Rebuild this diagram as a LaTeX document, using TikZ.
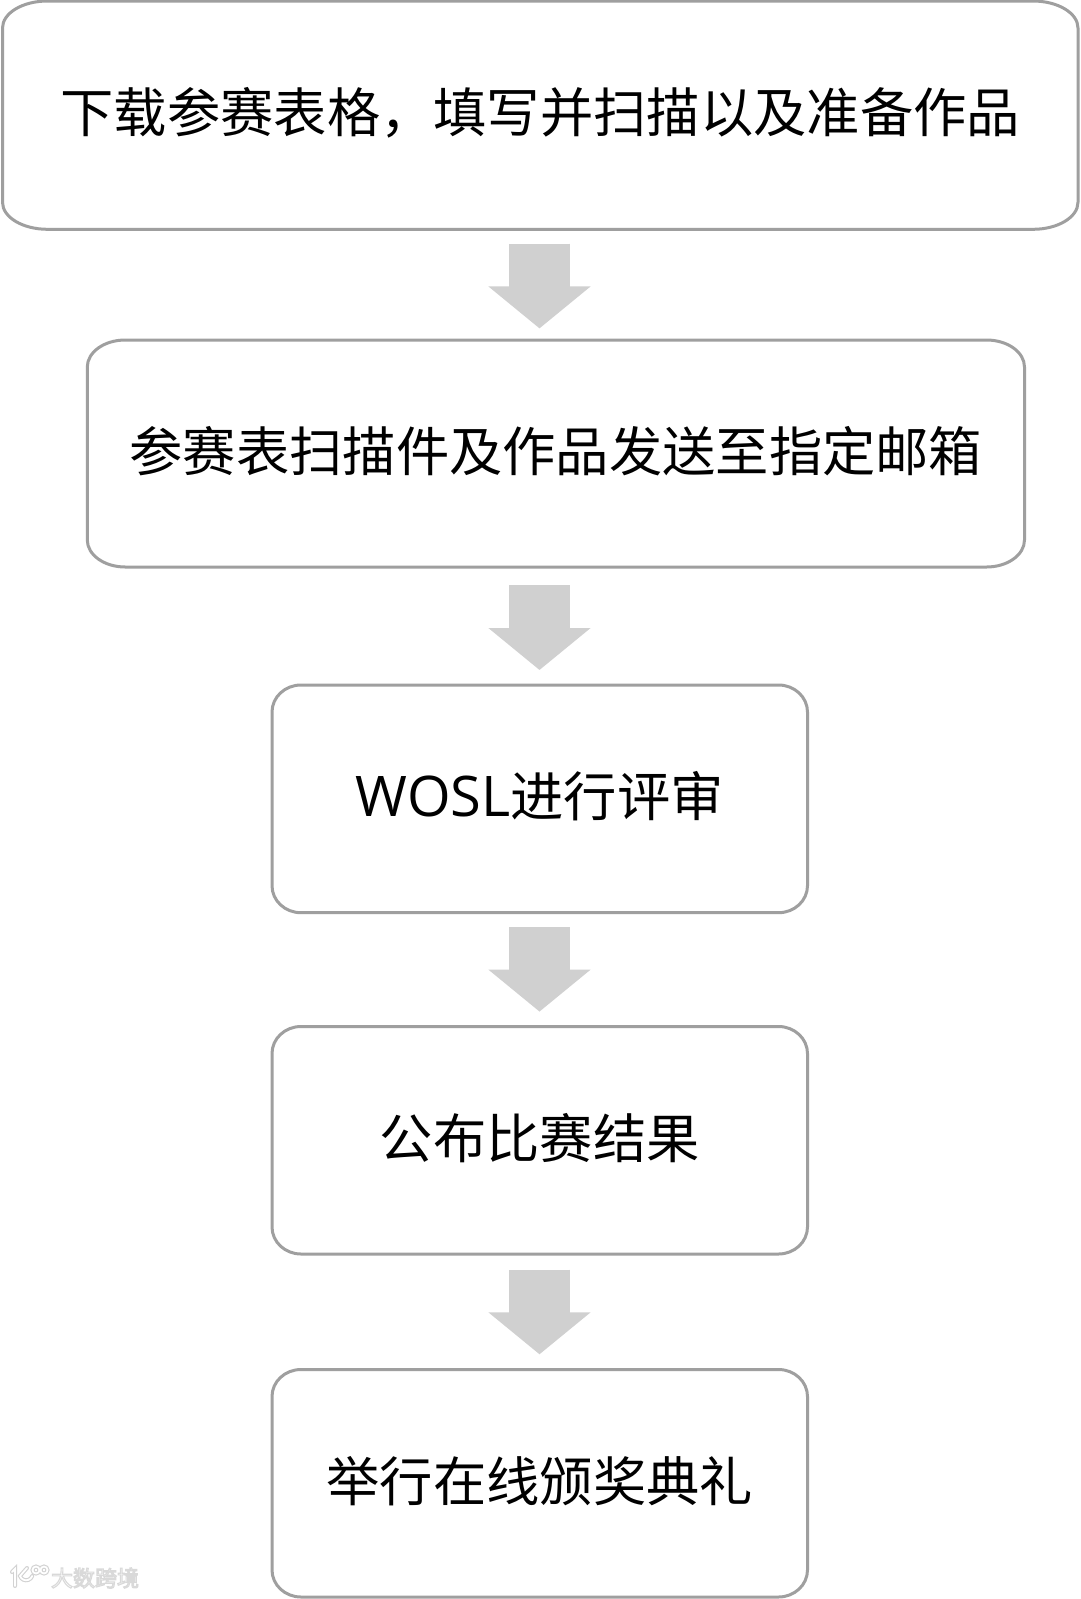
\documentclass[tikz,border=0pt]{standalone}
\usepackage{fontspec}
\usetikzlibrary{arrows.meta,calc}
\setmainfont{Open Sans}
\newfontfamily\cjk{Noto Sans CJK SC}
\definecolor{boxline}{HTML}{9F9F9F}
\definecolor{flowgray}{HTML}{D0D0D0}
\definecolor{markgray}{HTML}{D2D2D2}
\tikzset{
  x=1pt,y=-1pt,
  flowbox/.style={outer sep=0pt,inner sep=0pt,anchor=north west,
    font=\fontsize{53.3}{60}\selectfont\cjk,text=black,align=center},
  boxstroke/.style={draw=boxline,line width=3pt},
  flowarrow/.style 2 args={draw=flowgray,line width=61pt,-{Triangle[length=42pt,width=100pt]},shorten <=#1pt,shorten >=#2pt},
  markhalo/.style={draw=markgray,line width=4pt,line cap=round},
  markcore/.style={draw=white,line width=1.8pt,line cap=round},
}
\newcommand\lifted[1]{\raisebox{2.5pt}[\height][\depth]{#1}}
\newcommand\ellbox[3]{\draw[boxstroke]
  ($(#1.north west)+(#2,0)$) -- ($(#1.north east)+(-#2,0)$)
  arc[start angle=90,end angle=0,x radius=#2pt,y radius=#3pt]
  -- ($(#1.south east)+(0,-#3)$)
  arc[start angle=0,end angle=-90,x radius=#2pt,y radius=#3pt]
  -- ($(#1.south west)+(#2,0)$)
  arc[start angle=270,end angle=180,x radius=#2pt,y radius=#3pt]
  -- ($(#1.north west)+(0,#3)$)
  arc[start angle=180,end angle=90,x radius=#2pt,y radius=#3pt] -- cycle;}
\newcommand\logostroke[1]{
  \draw[#1] (12,1572) -- (15,1569) -- (15,1586);
  \draw[#1] (27,1568) -- (20,1576) arc[start angle=200,end angle=340,radius=6.5pt];
  \draw[#1] (36,1570) circle[radius=3.5pt];
  \draw[#1] (44,1570) circle[radius=3.5pt];
}
\begin{document}
\begin{tikzpicture}
\useasboundingbox (0,0) rectangle (1080,1599);
\fill[white] (0,0) rectangle (1080,1599);
\coordinate (axis) at (539.5,0);
\node[flowbox,minimum width=1075.5pt,minimum height=228.3pt] (b1) at (2.5,1) {\lifted{下载参赛表格，填写并扫描以及准备作品}};
\node[flowbox,minimum width=937.2pt,minimum height=227pt] (b2) at (87.3,340) {\lifted{参赛表扫描件及作品发送至指定邮箱}};
\node[flowbox,minimum width=535.5pt,minimum height=227.7pt] (b3) at (272,685) {\lifted{{\fontspec{Open Sans}\fontsize{56}{60}\selectfont WOSL}进行评审}};
\node[flowbox,minimum width=535.5pt,minimum height=227.5pt] (b4) at (272,1026.5) {\lifted{公布比赛结果}};
\node[flowbox,minimum width=535.5pt,minimum height=227.5pt] (b5) at (272,1369.5) {\lifted{举行在线颁奖典礼}};
\ellbox{b1}{45}{27}
\ellbox{b2}{38}{27}
\ellbox{b3}{29}{27}
\ellbox{b4}{29}{27}
\ellbox{b5}{29}{27}
\draw[flowarrow={14.4}{11.6}] (axis |- b1.south) -- (axis |- b2.north);
\draw[flowarrow={18.4}{15}] (axis |- b2.south) -- (axis |- b3.north);
\draw[flowarrow={14.3}{14.9}] (axis |- b3.south) -- (axis |- b4.north);
\draw[flowarrow={15.6}{15.2}] (axis |- b4.south) -- (axis |- b5.north);
\logostroke{markhalo}
\logostroke{markcore}
\node[text=white,font=\fontsize{22}{24}\selectfont\cjk] (wm) at (95,1578) {\special{pdf:code 0.85 G 1.1 w 2 Tr}大数跨境\special{pdf:code 0 Tr}};
\end{tikzpicture}
\end{document}
